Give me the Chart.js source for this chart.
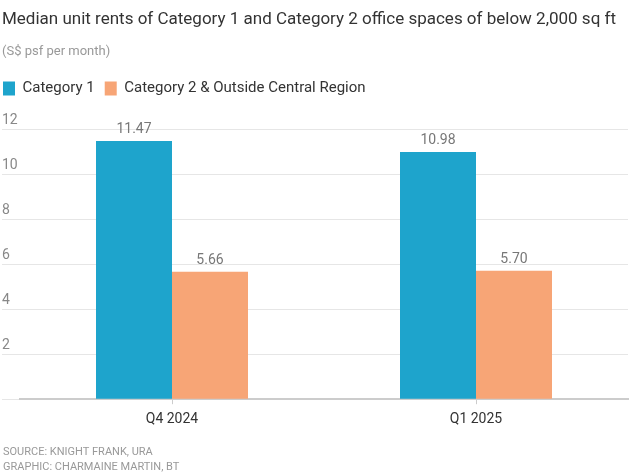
<!DOCTYPE html>
<html>
<head>
<meta charset="utf-8">
<script src="https://cdn.jsdelivr.net/npm/chart.js@4"></script>
<style>
html,body{margin:0;padding:0;background:#fff;}
#wrap{width:631px;height:473px;position:relative;}
</style>
</head>
<body>
<div id="wrap"><canvas id="c" width="631" height="473"></canvas></div>
<script>
const categories = ["Q4 2024", "Q1 2025"];
const category1 = [11.47, 10.98];
const category2 = [5.66, 5.70];
const seriesNames = ["Category 1", "Category 2 & Outside Central Region"];
const yTicks = [0, 2, 4, 6, 8, 10, 12];
const titleText = "Median unit rents of Category 1 and Category 2 office spaces of below 2,000 sq ft";
const subtitleText = "(S$ psf per month)";
const footerLines = ["SOURCE: KNIGHT FRANK, URA", "GRAPHIC: CHARMAINE MARTIN, BT"];

const FONT = "Roboto, 'Noto Sans', sans-serif";

const legendSpacer = {
  id: 'legendSpacer',
  beforeInit(chart) {
    const orig = chart.legend.fit;
    chart.legend.fit = function () {
      orig.call(this);
      this.height += 23;
    };
  },
  afterLayout(chart) {
    chart.legend.left = -7;
  }
};

const valueLabels = {
  id: 'valueLabels',
  afterDatasetsDraw(chart) {
    const ctx = chart.ctx;
    ctx.save();
    ctx.font = "14px " + FONT;
    ctx.fillStyle = "#777777";
    ctx.textAlign = "center";
    ctx.textBaseline = "bottom";
    chart.data.datasets.forEach((ds, i) => {
      const meta = chart.getDatasetMeta(i);
      meta.data.forEach((el, j) => {
        ctx.fillText(ds.data[j].toFixed(2), el.x, el.y - 4);
      });
    });
    ctx.restore();
  }
};

const footer = {
  id: 'footer',
  afterDraw(chart) {
    const ctx = chart.ctx;
    ctx.save();
    ctx.font = "11px " + FONT;
    ctx.fillStyle = "#999999";
    ctx.textAlign = "left";
    ctx.textBaseline = "middle";
    ctx.fillText(footerLines[0], 3, chart.height - 21);
    ctx.fillText(footerLines[1], 3, chart.height - 6);
    ctx.restore();
  }
};

new Chart(document.getElementById('c'), {
  type: 'bar',
  data: {
    labels: categories,
    datasets: [
      { label: seriesNames[0], data: category1, backgroundColor: '#1EA4CC', borderWidth: 0 },
      { label: seriesNames[1], data: category2, backgroundColor: '#F7A576', borderWidth: 0 }
    ]
  },
  plugins: [legendSpacer, valueLabels, footer],
  options: {
    responsive: false,
    animation: false,
    devicePixelRatio: 1,
    layout: { padding: { left: 2, right: 3, bottom: 38, top: 0 } },
    datasets: { bar: { categoryPercentage: 0.5, barPercentage: 1 } },
    plugins: {
      title: {
        display: true, text: titleText, align: 'start', color: '#333333',
        font: { family: FONT, size: 17, weight: 'normal', lineHeight: 1.2 },
        padding: { top: 10, bottom: 0 }
      },
      subtitle: {
        display: true, text: subtitleText, align: 'start', color: '#999999',
        font: { family: FONT, size: 13, weight: 'normal', lineHeight: 1.2 },
        padding: { top: 14, bottom: 11 }
      },
      legend: {
        display: true, align: 'start', position: 'top',
        labels: {
          boxWidth: 12, boxHeight: 14, padding: 10, color: '#333333',
          font: { family: FONT, size: 15 }
        }
      },
      tooltip: { enabled: false }
    },
    scales: {
      x: {
        grid: { display: true, drawOnChartArea: false, drawTicks: true, tickLength: 5, offset: false, color: '#cccccc' },
        border: { display: true, color: '#cccccc', width: 2 },
        ticks: { color: '#333333', font: { family: FONT, size: 14 }, padding: 7 }
      },
      y: {
        min: 0, max: 12,
        afterFit(scale) { scale.width = 18; },
        afterBuildTicks(scale) { scale.ticks = yTicks.map(v => ({ value: v })); },
        grid: { color: '#e6e6e6', drawTicks: true, tickLength: 18 },
        border: { display: false },
        ticks: {
          crossAlign: 'far', labelOffset: -9, padding: 0,
          color: '#888888', font: { family: FONT, size: 14 },
          callback: (v) => v === 0 ? '' : String(v)
        }
      }
    }
  }
});
</script>
</body>
</html>
